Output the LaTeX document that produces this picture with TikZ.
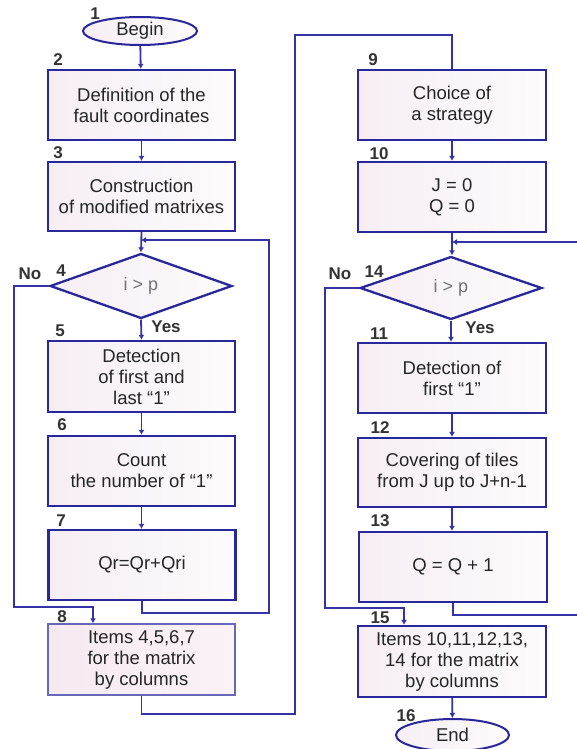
\documentclass[tikz,border=0pt]{standalone}
\usepackage{fontspec}
\setmainfont{Liberation Sans}
\usetikzlibrary{shapes.geometric,arrows.meta}
\definecolor{bdr}{HTML}{28289A}
\definecolor{lnc}{HTML}{3434A6}
\definecolor{fillp}{HTML}{F6EEF3}
\definecolor{fillw}{HTML}{FDFBFC}
\definecolor{fill8}{HTML}{F6EAF1}
\definecolor{fill8b}{HTML}{FAF2F6}
\definecolor{numc}{HTML}{333333}
\definecolor{txt}{HTML}{262626}
\tikzset{
  blk/.style={rectangle, draw=bdr, line width=2.3pt, left color=fillp, right color=fillw,
    inner sep=0pt, align=center, font=\fontsize{18.5}{21}\selectfont, text=txt},
  lblk/.style={blk, minimum width=187pt},
  rblk/.style={blk, minimum width=188pt},
  blk8/.style={lblk, draw=lnc!75, line width=1.4pt, left color=fill8, right color=fill8b},
  term/.style={ellipse, draw=bdr, line width=2pt, left color=fillp, right color=fillw,
    inner sep=0pt, font=\fontsize{18.5}{20}\selectfont, text=txt},
  dec/.style={diamond, draw=bdr, line width=2.3pt, left color=fillp, right color=fillw,
    inner sep=0pt, font=\fontsize{18}{20}\selectfont, text=black!55},
  num/.style={font=\bfseries\fontsize{17}{18}\selectfont, text=numc, inner sep=0pt},
  conn/.style={draw=lnc, line width=1.8pt},
  arr/.style={conn, -{Latex[length=5pt,width=6pt]}},
}
\begin{document}
\begin{tikzpicture}[x=1pt,y=-1pt]
\useasboundingbox (0,0) rectangle (577,749);
\fill[white] (0,0) rectangle (577,749);
% left column
\node[term, minimum width=114pt, minimum height=28pt] (b1) at (140,31) {Begin};
\node[lblk, minimum height=70pt] (b2) at (141.5,105) {Definition of the\\fault coordinates};
\node[lblk, minimum height=69pt] (b3) at (141.5,196.5) {Construction\\of modified matrixes};
\node[dec, minimum width=182pt, minimum height=65pt] (d4) at (141,286) {i > p};
\node[lblk, minimum height=71pt] (b5) at (141.5,376.5) {Detection\\of first and\\last “1”};
\node[lblk, minimum height=70pt] (b6) at (141.5,471) {Count\\the number of “1”};
\node[lblk, minimum height=70pt] (b7) at (142,565) {Qr=Qr+Qri};
\node[blk8, minimum height=71pt] (b8) at (141.5,659.5) {Items 4,5,6,7\\for the matrix\\by columns};
% right column
\node[rblk, minimum height=70pt] (b9) at (452,105) {Choice of\\a strategy};
\node[rblk, minimum height=70pt] (b10) at (452,197) {J = 0\\Q = 0};
\node[dec, minimum width=182pt, minimum height=63pt] (d14) at (451,288) {i > p};
\node[rblk, minimum height=70pt] (b11) at (452,378) {Detection of\\first “1”};
\node[rblk, minimum height=69pt] (b12) at (452,472.5) {Covering of tiles\\from J up to J+n-1};
\node[rblk, minimum height=70pt] (b13) at (453,567) {Q = Q + 1};
\node[rblk, minimum height=71pt] (b15) at (452,661.5) {Items 10,11,12,13,\\14 for the matrix\\by columns};
\node[term, minimum width=113pt, minimum height=32pt] (b16) at (452.5,735) {End};
% numbers
\node[num] (n1) at (95,14) {1};
\node[num] (n2) at (58,60) {2};
\node[num] (n3) at (58,153) {3};
\node[num] (n4) at (61,271) {4};
\node[num] (n5) at (60,331) {5};
\node[num] (n6) at (62,425) {6};
\node[num] (n7) at (61,521) {7};
\node[num] (n8) at (62,617) {8};
\node[num] (n9) at (373,60) {9};
\node[num] (n10) at (379,154) {10};
\node[num] (n14) at (374,272) {14};
\node[num] (n11) at (379,334) {11};
\node[num] (n12) at (380,428) {12};
\node[num] (n13) at (380,521) {13};
\node[num] (n15) at (380,618) {15};
\node[num] (n16) at (406,716) {16};
\node[num] (no4) at (30,274) {No};
\node[num] (yes4) at (166,327) {Yes};
\node[num] (no14) at (340,274) {No};
\node[num] (yes14) at (480,328) {Yes};
% coordinates
\coordinate (j4) at (141,240);
\coordinate (j14) at (452,242);
\coordinate (redge1) at (580,242);
\coordinate (redge2) at (580,615);
% connectors left
\draw[arr] (b1) -- (b2);
\draw[arr] (b2) -- (b3);
\draw[arr] (b3.south) -- (d4.north);
\draw[arr] (b7.south) -- (142,613) -- (269,613) -- (269,240) -- (j4);
\draw[arr] (d4.west) -- (14,286) -- (14,607) -- (93,607) -- (93,0 |- b8.north);
\draw[arr] (d4.south) -- (b5.north);
\draw[arr] (b5) -- (b6);
\draw[arr] (b6.south) -- (141.5,0 |- b7.north);
\draw[conn] (b8.south) -- (141.5,714) -- (295,714) -- (295,35) -- (452,35) -- (b9.north);
% connectors right
\draw[arr] (b9) -- (b10);
\draw[arr] (b10.south) -- (452,0 |- d14.north);
\draw[conn] (b13.south) -- (453,615) -- (redge2);
\draw[arr] (redge1) -- (j14);
\draw[arr] (d14.south) -- (451,0 |- b11.north);
\draw[arr] (b11) -- (b12);
\draw[arr] (b12.south) -- (452,0 |- b13.north);
\draw[arr] (d14.west) -- (325,288) -- (325,608) -- (404,608) -- (404,0 |- b15.north);
\draw[arr] (b15) -- (b16);
\end{tikzpicture}
\end{document}
